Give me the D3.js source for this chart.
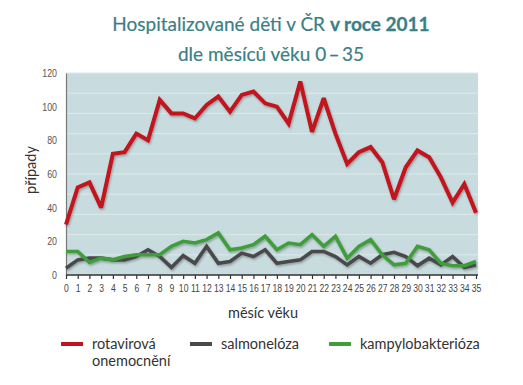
<!DOCTYPE html>
<html><head><meta charset="utf-8">
<script src="https://cdn.jsdelivr.net/npm/d3@7"></script>
<style>
body{margin:0;background:#fff;}
svg{display:block;}
</style></head>
<body><svg id="c" width="523" height="385"></svg>
<script>
const months = d3.range(0, 36);
const rotavirova = [30,52,55,40,72,73,84,80,104,96,96,93,101,106,97,107,109,102,100,90,115,85,105,84,66,73,76,67,45,64,74,70,58,43,54,37];
const salmoneloza = [4,9,10,10,9,9,11,15,11,4.5,11.5,7,17,7,8,13,11,15,7,8,9,14,14,11,6,11,7,12,13.5,11,5.5,10,6,11,4.5,6];
const kampylobakterioza = [14,14,7.5,10,9,11,12,12,12,17,20,19,21,25,15,16,18,23,15,19,18,24,17,23,10,17,21,12,6,7,17,15,7,5.5,5.5,8];
const yTicks = [0,20,40,60,80,100,120];
const gridValues = d3.range(0, 121, 12);
const seriesNames = ["rotavirová|onemocnění", "salmonelóza", "kampylobakterióza"];
const seriesColors = ["#c3121f", "#4a4a4c", "#3f9d3a"];

const svg = d3.select("#c");
const x = d3.scaleLinear().domain([0,35]).range([66,476]);
const y = d3.scaleLinear().domain([0,120]).range([275,73]);

const defs = svg.append("defs");
const f = defs.append("filter").attr("id","sh").attr("x","-10%").attr("y","-10%").attr("width","120%").attr("height","130%");
f.append("feDropShadow").attr("dx",1).attr("dy",1.5).attr("stdDeviation",1).attr("flood-color","#000").attr("flood-opacity",0.3);

// title
const title = svg.append("text").attr("x",271).attr("y",31).attr("text-anchor","middle")
  .attr("font-family","Lato, 'Open Sans', sans-serif").attr("font-size",19).attr("fill","#3b7f86");
title.append("tspan").attr("stroke","#3b7f86").attr("stroke-width",0.2).text("Hospitalizované děti v ČR ");
title.append("tspan").attr("font-weight","bold").attr("stroke","#3b7f86").attr("stroke-width",0.3).text("v roce 2011");
svg.append("text").attr("x",271).attr("y",61).attr("text-anchor","middle")
  .attr("font-family","Lato, 'Open Sans', sans-serif").attr("font-size",19).attr("fill","#3b7f86")
  .attr("stroke","#3b7f86").attr("stroke-width",0.2)
  .text("dle měsíců věku 0\u2009–\u200935");

// plot bg
svg.append("rect").attr("x",x(0)).attr("y",y(120)).attr("width",x(35)+2-x(0)).attr("height",y(0)-y(120)).attr("fill","#c8dcdf");
svg.append("g").selectAll("line").data(gridValues).join("line")
  .attr("x1",x(0)).attr("x2",x(35)+2).attr("y1",d=>y(d)).attr("y2",d=>y(d))
  .attr("stroke","#dce9eb").attr("stroke-width",1);

// y axis
const ya = svg.append("g").attr("transform",`translate(${x(0)},0)`)
  .call(d3.axisLeft(y).tickValues(yTicks).tickSize(0).tickPadding(9));
ya.select(".domain").attr("stroke","#777").attr("stroke-width",1.2);
ya.selectAll("text").attr("font-family","'Liberation Sans Narrow', 'Liberation Sans', sans-serif")
  .attr("font-size",11).attr("fill","#555");
ya.selectAll(".tick").each(function(){
  const t = d3.select(this).select("text");
  t.attr("transform","translate(-9,0) scale(0.8,1) translate(9,0)");
});

// x axis
const xa = svg.append("g").attr("transform",`translate(0,${y(0)})`)
  .call(d3.axisBottom(x).tickValues(months).tickSize(4).tickPadding(5).tickFormat(d3.format("d")));
xa.select(".domain").attr("stroke","#333").attr("stroke-width",1.5).attr("d",`M${x(0)},0H${x(35)+2}`);
xa.selectAll(".tick line").attr("stroke","#333").attr("stroke-width",1.2);
xa.selectAll("text").attr("font-family","'Liberation Sans Narrow', 'Liberation Sans', sans-serif")
  .attr("font-size",11.5).attr("fill","#444").attr("transform","scale(0.75,1)");

// axis titles
svg.append("text").attr("transform","translate(36,170) rotate(-90)").attr("text-anchor","middle")
  .attr("font-family","Lato, 'Open Sans', sans-serif").attr("font-size",14.5).attr("fill","#333").text("případy");
svg.append("text").attr("x",263).attr("y",318).attr("text-anchor","middle")
  .attr("font-family","Lato, 'Open Sans', sans-serif").attr("font-size",14.5).attr("fill","#333").text("měsíc věku");

// lines
const line = d3.line().x((d,i)=>x(months[i])).y(d=>y(d)).curve(d3.curveLinear);
const data = [
  {v: salmoneloza, c: seriesColors[1], w: 3.6},
  {v: kampylobakterioza, c: seriesColors[2], w: 3.6},
  {v: rotavirova, c: seriesColors[0], w: 4}
];
svg.append("g").attr("filter","url(#sh)").selectAll("path").data(data).join("path")
  .attr("d",d=>line(d.v)).attr("fill","none").attr("stroke",d=>d.c).attr("stroke-width",d=>d.w)
  .attr("stroke-linejoin","miter").attr("stroke-miterlimit",3);

// legend
const legX = [61, 190, 329];
const lg = svg.append("g");
seriesNames.forEach((n,i)=>{
  lg.append("rect").attr("x",legX[i]).attr("y",342).attr("width",22).attr("height",4).attr("fill",seriesColors[i]);
  const t = lg.append("text").attr("x",legX[i]+31).attr("y",349)
    .attr("font-family","Lato, 'Open Sans', sans-serif").attr("font-size",14.5).attr("fill","#333");
  n.split("|").forEach((p,j)=>{
    t.append("tspan").attr("x",legX[i]+31).attr("dy", j===0?0:17).text(p);
  });
});
</script></body></html>
